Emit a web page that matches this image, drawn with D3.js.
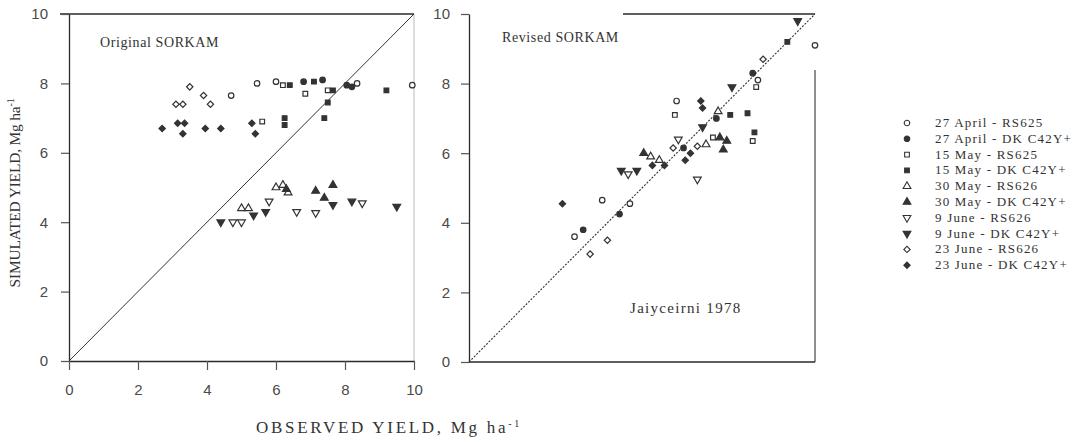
<!DOCTYPE html>
<html>
<head>
<meta charset="utf-8">
<script src="https://cdn.jsdelivr.net/npm/d3@7"></script>
<style>
  body { margin: 0; background: #fff; }
  svg { display: block; }
  .tick text { font-family: "Liberation Sans", Arial, sans-serif; font-size: 15px; fill: #4a4a4a; }
  .lbl { font-family: "Liberation Serif", "Times New Roman", serif; fill: #333; }
</style>
</head>
<body>
<svg width="1081" height="442"></svg>
<script>
// legend entries, in order: open / filled pairs for each planting date
const seriesNames = ["27 April - RS625", "27 April - DK C42Y+", "15 May - RS625", "15 May - DK C42Y+",
  "30 May - RS626", "30 May - DK C42Y+", "9 June - RS626", "9 June - DK C42Y+",
  "23 June - RS626", "23 June - DK C42Y+"];
const seriesShapes = ["circle", "circle", "square", "square", "up", "up", "down", "down", "diamond", "diamond"];
const seriesFilled = [false, true, false, true, false, true, false, true, false, true];
const axisTicks = [0, 2, 4, 6, 8, 10];

// [series, observed, simulated] - original SORKAM
const originalPts = [
  [0, 5.45, 8.0], [0, 6.0, 8.05], [0, 8.35, 8.0], [0, 9.95, 7.95], [0, 4.7, 7.65],
  [1, 7.35, 8.1], [1, 8.05, 7.95], [1, 8.2, 7.9], [1, 6.8, 8.05],
  [2, 5.6, 6.9], [2, 6.85, 7.7], [2, 7.5, 7.8], [2, 6.2, 7.95],
  [3, 6.4, 7.95], [3, 7.1, 8.05], [3, 7.65, 7.8], [3, 9.2, 7.8], [3, 6.25, 7.0], [3, 6.25, 6.8], [3, 7.4, 7.0], [3, 7.5, 7.45],
  [4, 5.0, 4.4], [4, 5.2, 4.4], [4, 6.0, 5.0], [4, 6.2, 5.07], [4, 6.35, 4.85],
  [5, 7.15, 4.9], [5, 7.65, 5.07], [5, 7.4, 4.7], [5, 6.3, 4.95],
  [6, 4.75, 4.0], [6, 5.0, 4.0], [6, 6.6, 4.3], [6, 7.15, 4.27], [6, 8.5, 4.55], [6, 5.8, 4.6],
  [7, 4.4, 4.0], [7, 5.35, 4.2], [7, 5.7, 4.3], [7, 7.65, 4.5], [7, 8.2, 4.6], [7, 9.5, 4.45],
  [8, 3.5, 7.9], [8, 3.9, 7.65], [8, 4.1, 7.4], [8, 3.1, 7.4], [8, 3.3, 7.4],
  [9, 2.7, 6.7], [9, 3.15, 6.85], [9, 3.35, 6.85], [9, 3.3, 6.55], [9, 3.95, 6.7], [9, 4.4, 6.7], [9, 5.3, 6.85], [9, 5.4, 6.55]
];

// [series, observed, simulated] - revised SORKAM
const revisedPts = [
  [0, 10.0, 9.1], [0, 8.35, 8.1], [0, 6.0, 7.5], [0, 3.85, 4.65], [0, 4.65, 4.55], [0, 3.05, 3.6],
  [1, 8.2, 8.3], [1, 7.15, 7.0], [1, 3.3, 3.8], [1, 4.35, 4.25], [1, 6.2, 6.15],
  [2, 8.3, 7.9], [2, 5.95, 7.1], [2, 8.2, 6.35], [2, 7.05, 6.45],
  [3, 9.2, 9.2], [3, 8.05, 7.15], [3, 8.25, 6.6], [3, 7.55, 7.1],
  [4, 5.25, 5.9], [4, 5.5, 5.8], [4, 6.85, 6.25], [4, 7.2, 7.2],
  [5, 5.05, 6.0], [5, 7.25, 6.45], [5, 7.45, 6.35], [5, 7.35, 6.1],
  [6, 6.6, 5.25], [6, 6.05, 6.4], [6, 4.6, 5.4],
  [7, 9.5, 9.8], [7, 7.6, 7.9], [7, 6.75, 6.75], [7, 4.4, 5.5], [7, 4.85, 5.5],
  [8, 8.5, 8.7], [8, 3.5, 3.1], [8, 4.0, 3.5], [8, 6.6, 6.2], [8, 5.9, 6.15],
  [9, 6.7, 7.5], [9, 6.75, 7.3], [9, 2.7, 4.55], [9, 5.3, 5.65], [9, 5.65, 5.65], [9, 6.4, 6.0], [9, 6.25, 5.8]
];

const svg = d3.select("svg");
const ink = "#2a2a2a";

// small marks, like the scanned figure; diamond = square turned 45 degrees
const symbolFor = shape => {
  const types = {circle: d3.symbolCircle, square: d3.symbolSquare, up: d3.symbolTriangle,
                 down: d3.symbolTriangle, diamond: d3.symbolSquare};
  const sizes = {circle: 24, square: 22, up: 26, down: 26, diamond: 20};
  return d3.symbol().type(types[shape]).size(sizes[shape])();
};
const turnFor = shape => shape === "down" ? " rotate(180)" : shape === "diamond" ? " rotate(45)" : "";

const drawPoints = (g, pts, x, y) =>
  g.selectAll("path.pt")
    .data(pts)
    .enter()
    .append("path")
      .attr("class", "pt")
      .attr("d", d => symbolFor(seriesShapes[d[0]]))
      .attr("transform", d => `translate(${x(d[1])},${y(d[2])})` + turnFor(seriesShapes[d[0]]))
      .attr("fill", d => seriesFilled[d[0]] ? "#333" : "#fff")
      .attr("stroke", "#333")
      .attr("stroke-width", 1.2);

const styleAxis = g => {
  g.select(".domain").attr("stroke", ink).attr("stroke-width", 1.3);
  g.selectAll(".tick line").attr("stroke", "#555").attr("stroke-width", 1.2);
};

// ---- left panel: original SORKAM
const xL = d3.scaleLinear().domain([0, 10]).range([69, 414]);
const yL = d3.scaleLinear().domain([0, 10]).range([361, 14]);

svg.append("line")
  .attr("x1", 60).attr("x2", xL(10)).attr("y1", yL(10)).attr("y2", yL(10))
  .attr("stroke", ink).attr("stroke-width", 1.3);
svg.append("line")
  .attr("x1", xL(10)).attr("x2", xL(10)).attr("y1", yL(10)).attr("y2", yL(0))
  .attr("stroke", "#bbb").attr("stroke-width", 1);

svg.append("g")
  .attr("transform", `translate(${xL(0)},0)`)
  .call(d3.axisLeft(yL).tickValues(axisTicks).tickSize(8).tickPadding(13).tickSizeOuter(0))
  .call(styleAxis);
svg.append("g")
  .attr("transform", `translate(0,${yL(0)})`)
  .call(d3.axisBottom(xL).tickValues(axisTicks).tickSize(9).tickPadding(14).tickSizeOuter(0))
  .call(styleAxis);

svg.append("line")
  .attr("x1", xL(0)).attr("y1", yL(0)).attr("x2", xL(10)).attr("y2", yL(10))
  .attr("stroke", "#333").attr("stroke-width", 1);

drawPoints(svg.append("g"), originalPts, xL, yL);

svg.append("text").attr("class", "lbl")
  .attr("x", 100).attr("y", 47).attr("font-size", 14).attr("letter-spacing", 0.6)
  .text("Original SORKAM");

// ---- right panel: revised SORKAM
const xR = d3.scaleLinear().domain([0, 10]).range([469, 815]);
const yR = d3.scaleLinear().domain([0, 10]).range([362, 14]);

svg.append("line")
  .attr("x1", 623).attr("x2", xR(10)).attr("y1", yR(10)).attr("y2", yR(10))
  .attr("stroke", ink).attr("stroke-width", 1.5);
svg.append("line")
  .attr("x1", xR(10)).attr("x2", xR(10)).attr("y1", 70).attr("y2", yR(0))
  .attr("stroke", "#444").attr("stroke-width", 1.2);
svg.append("line")
  .attr("x1", xR(0)).attr("x2", xR(10)).attr("y1", yR(0)).attr("y2", yR(0))
  .attr("stroke", ink).attr("stroke-width", 1.4);

svg.append("g")
  .attr("transform", `translate(${xR(0)},0)`)
  .call(d3.axisLeft(yR).tickValues(axisTicks).tickSize(8).tickPadding(11).tickSizeOuter(0))
  .call(styleAxis);

svg.append("line")
  .attr("x1", xR(0)).attr("y1", yR(0)).attr("x2", xR(10)).attr("y2", yR(10))
  .attr("stroke", "#333").attr("stroke-width", 1.1)
  .attr("stroke-dasharray", "2,1.5");

drawPoints(svg.append("g"), revisedPts, xR, yR);

svg.append("text").attr("class", "lbl")
  .attr("x", 502).attr("y", 42).attr("font-size", 14).attr("letter-spacing", 0.6)
  .text("Revised SORKAM");
svg.append("text").attr("class", "lbl")
  .attr("x", 630).attr("y", 313).attr("font-size", 15).attr("letter-spacing", 1.3)
  .text("Jaiyceirni 1978");

// ---- axis titles
const xTitle = svg.append("text").attr("class", "lbl")
  .attr("x", 389).attr("y", 433).attr("text-anchor", "middle")
  .attr("font-size", 17).attr("letter-spacing", 2.7);
xTitle.append("tspan").text("OBSERVED YIELD, Mg ha");
xTitle.append("tspan").attr("dy", -6).attr("font-size", 10).text("-1");

const yTitle = svg.append("text").attr("class", "lbl")
  .attr("transform", "translate(20,193) rotate(-90)")
  .attr("text-anchor", "middle")
  .attr("font-size", 15.5).attr("letter-spacing", -0.2);
yTitle.append("tspan").text("SIMULATED YIELD, Mg ha");
yTitle.append("tspan").attr("dy", -6).attr("font-size", 10).text("-1");

// ---- legend
const legend = svg.append("g")
  .selectAll("g")
  .data(seriesNames)
  .enter()
  .append("g")
    .attr("transform", (_, i) => `translate(907,${123 + i * 15.8})`);
legend.append("path")
  .attr("d", (_, i) => symbolFor(seriesShapes[i]))
  .attr("transform", (_, i) => turnFor(seriesShapes[i]) || null)
  .attr("fill", (_, i) => seriesFilled[i] ? "#333" : "#fff")
  .attr("stroke", "#333")
  .attr("stroke-width", 1.1);
legend.append("text").attr("class", "lbl")
  .attr("x", 28).attr("y", 4)
  .attr("font-size", 13).attr("letter-spacing", 1.2)
  .text(d => d);
</script>
</body>
</html>
